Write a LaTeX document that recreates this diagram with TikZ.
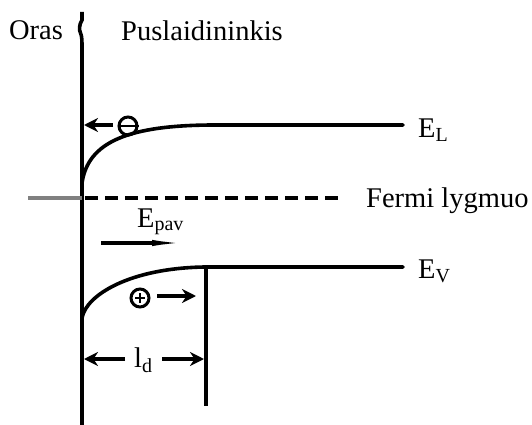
\documentclass[tikz,border=0pt]{standalone}
\usepackage{fontspec}
\setmainfont{Liberation Serif}
\usetikzlibrary{arrows.meta,positioning,calc}

\tikzset{
  wall/.style={line width=3.6pt},
  band/.style={line width=3.6pt, line cap=round},
  carrier/.style={circle, draw, line width=3pt, minimum size=18pt, inner sep=0pt},
  push/.style={line width=3.6pt, -{Stealth[length=14pt,width=14pt]}},
  lbl/.style={inner sep=0pt, anchor=base west}
}

\begin{document}
\begin{tikzpicture}[x=1pt, y=-1pt, font=\fontsize{28.5}{33}\selectfont]
        \useasboundingbox (0,0) rectangle (532,425);
        % points
        \coordinate(W0)at(82,12);
        \coordinate(W1)at(82,425);
        \coordinate(L0)at(82,183);
        \coordinate(L1)at(403,125);
        \coordinate(V0)at(82,318);
        \coordinate(V1)at(205,267);
        \coordinate(V2)at(403,267);
        \coordinate(D0)at(206,267);
        \coordinate(D1)at(206,406);
        \coordinate(F0)at(28,198);
        \coordinate(F1)at(82,198);
        \coordinate(F2)at(345,198);
        % wall
        \path[draw, wall](W0)--(82,20) .. controls (79,25) and (79,30) .. (80.5,33)
            .. controls (82,36) and (82,41) .. (82,48)--(W1);
        % labels on top
        \node[lbl, anchor=base](oras)at(36,40){Oras};
        \node[lbl, anchor=base](semi)at(202,41){Puslaidininkis};
        % conduction band
        \path[draw, band](L0) .. controls (88,142) and (128,125) .. (215,125)--(L1);
        \node[lbl](EL)at(418,137){E\textsubscript{L}};
        % Fermi level
        \path[draw, line width=3.2pt, gray](F0)--(F1);
        \path[draw, line width=3.6pt, dash pattern=on 13pt off 7pt](85,198)--(F2);
        \node[lbl](fermi)at(366,207){Fermi lygmuo};
        % valence band
        \path[draw, band](V0) .. controls (86,295) and (130,268) .. (V1)--(V2);
        \node[lbl](EV)at(418,278){E\textsubscript{V}};
        % depletion edge
        \path[draw, line width=3.2pt](D0)--(D1);
        % field
        \node[lbl](Epav)at(137,227){E\textsubscript{pav}};
        \coordinate(P0)at(101,243);
        \coordinate(P1)at(212,243);
        \path[draw, line width=3.4pt, -{Latex[length=60pt,width=6pt]}](P0)--(P1);
        % electron
        \node[carrier](minus)at(128,126){};
        \path[draw, line width=2.6pt](minus.west)--(minus.east);
        \coordinate(M0)at(113,125);
        \coordinate(M1)at(84,125);
        \path[draw, push](M0)--(M1);
        % hole
        \node[carrier](plus)at(140,298){};
        \path[draw, line width=1.6pt]($(plus)+(-5,0)$)--($(plus)+(5,0)$);
        \path[draw, line width=1.6pt]($(plus)+(0,-5)$)--($(plus)+(0,5)$);
        \coordinate(H0)at(157,296);
        \coordinate(H1)at(196,296);
        \path[draw, push](H0)--(H1);
        % depletion width
        \node[lbl](ld)at(134,367){l\textsubscript{d}};
        \coordinate(A0)at(125,359);
        \coordinate(A1)at(84,359);
        \coordinate(B0)at(162,359);
        \coordinate(B1)at(204,359);
        \path[draw, push](A0)--(A1);
        \path[draw, push](B0)--(B1);
    \end{tikzpicture}
\end{document}
